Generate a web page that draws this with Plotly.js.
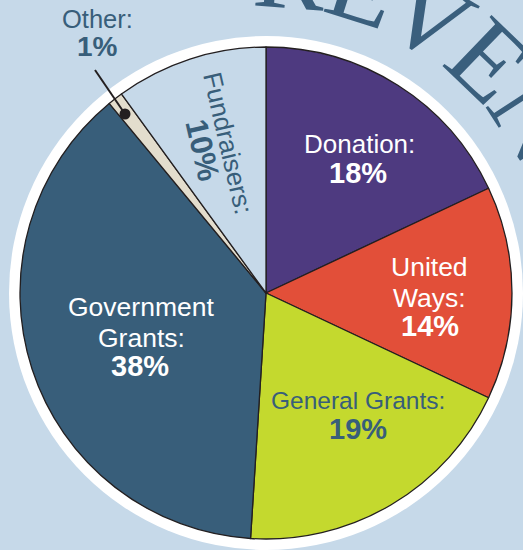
<!DOCTYPE html>
<html>
<head>
<meta charset="utf-8">
<script src="https://cdn.plot.ly/plotly-3.0.1.min.js"></script>
<style>html,body{margin:0;padding:0;background:#c6d9e9;}#chart{width:523px;height:550px;}</style>
</head>
<body>
<div id="chart"></div>
<script>
// ---- data ----
const categories = ['Donation', 'United Ways', 'General Grants', 'Government Grants', 'Other', 'Fundraisers'];
const shares = [18, 14, 19, 38, 1, 10];
const labelLines = [['Donation:'], ['United', 'Ways:'], ['General Grants:'], ['Government', 'Grants:'], ['Other:'], ['Fundraisers:']];
const titleLetters = ['R', 'E', 'V', 'E', 'N', 'U', 'E'];

// ---- styles / layout helpers ----
const W = 523, H = 550;
const px = x => x / W, py = y => 1 - y / H;
const CX = 266, CY = 293, R = 246, RING = 257;
const slate = '#385e7a';
const sliceColors = ['#4e3a80', '#e24f39', '#c4d92e', '#385e7a', '#e3ddcd', '#c6d9e9'];
const labelStyle = [
  {x: 359, ys: [144], pctX: 358, pctY: 173, size: 26, pctSize: 29, color: '#ffffff', angle: 0},
  {x: 429, ys: [267, 297.5], pctX: 430, pctY: 326, size: 26.5, pctSize: 29, color: '#ffffff', angle: 0},
  {x: 358, ys: [400], pctX: 358, pctY: 429, size: 24.5, pctSize: 29, color: slate, angle: 0},
  {x: 141, ys: [306.5, 338], pctX: 140, pctY: 366, size: 26.5, pctSize: 29, color: '#ffffff', angle: 0},
  {x: 97, ys: [19], pctX: 97.5, pctY: 46.5, size: 25.5, pctSize: 28, color: slate, angle: 0},
  {x: 228, ys: [143], pctX: 203, pctY: 150, size: 26, pctSize: 31, color: slate, angle: 77}
];

const annotations = [];
const font = 'Liberation Sans, Arial, sans-serif';
categories.forEach((c, i) => {
  const s = labelStyle[i];
  labelLines[i].forEach((ln, j) => {
    annotations.push({xref: 'paper', yref: 'paper', x: px(s.x), y: py(s.ys[j]), xanchor: 'center', yanchor: 'middle',
      text: ln, showarrow: false, textangle: s.angle, font: {family: font, size: s.size, color: s.color}});
  });
  annotations.push({xref: 'paper', yref: 'paper', x: px(s.pctX), y: py(s.pctY), xanchor: 'center', yanchor: 'middle',
    text: '<b>' + shares[i] + '%</b>', showarrow: false, textangle: s.angle, font: {family: font, size: s.pctSize, color: s.color}});
});

// arc title letters
const arcStart = 4.3, arcStep = 13.2, arcR = 322;
titleLetters.forEach((L, k) => {
  const a = arcStart + k * arcStep;
  const rad = a * Math.PI / 180;
  const x = CX + arcR * Math.sin(rad), y = CY - arcR * Math.cos(rad);
  annotations.push({xref: 'paper', yref: 'paper', x: px(x), y: py(y), xanchor: 'center', yanchor: 'middle',
    text: L, showarrow: false, textangle: a, font: {family: 'Liberation Serif, Times New Roman, serif', size: 108, color: '#3a5f7d'}});
});

const shapes = [
  {type: 'circle', xref: 'paper', yref: 'paper', layer: 'below',
   x0: px(CX - RING), x1: px(CX + RING), y0: py(CY + RING), y1: py(CY - RING),
   fillcolor: '#ffffff', line: {width: 0}},
  {type: 'line', xref: 'paper', yref: 'paper', layer: 'above',
   x0: px(95), y0: py(70), x1: px(125), y1: py(114), line: {color: '#231f20', width: 2}},
  {type: 'circle', xref: 'paper', yref: 'paper', layer: 'above',
   x0: px(119.5), x1: px(130.5), y0: py(119.5), y1: py(108.5), fillcolor: '#231f20', line: {width: 0}}
];

const trace = {
  type: 'pie',
  labels: categories,
  values: shares,
  sort: false,
  direction: 'clockwise',
  rotation: 0,
  textinfo: 'none',
  hoverinfo: 'skip',
  showlegend: false,
  marker: {colors: sliceColors, line: {color: '#231f20', width: 1.3}},
  domain: {x: [px(CX - R), px(CX + R)], y: [py(CY + R), py(CY - R)]}
};

Plotly.newPlot('chart', [trace], {
  width: W, height: H,
  margin: {l: 0, r: 0, t: 0, b: 0},
  paper_bgcolor: '#c6d9e9',
  plot_bgcolor: '#c6d9e9',
  showlegend: false,
  shapes: shapes,
  annotations: annotations
}, {displayModeBar: false, staticPlot: true});
</script>
</body>
</html>
